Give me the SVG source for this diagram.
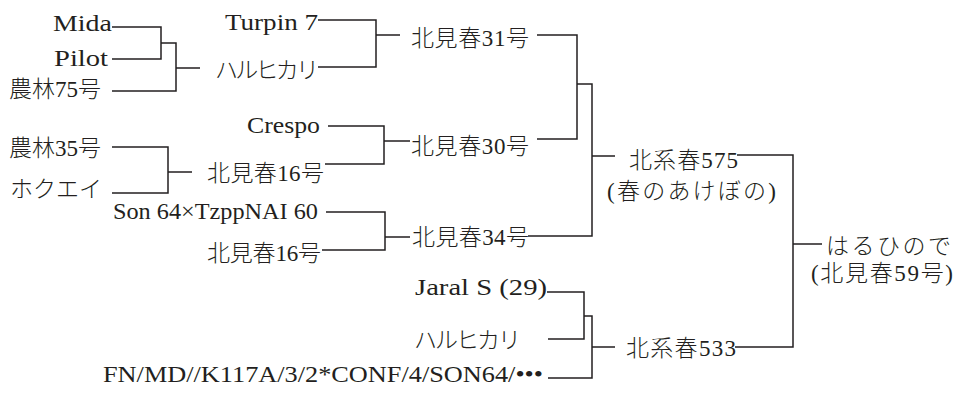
<svg xmlns="http://www.w3.org/2000/svg" width="954" height="394" viewBox="0 0 954 394">
<style>
text{font-family:"Liberation Serif","Noto Sans CJK JP",serif;font-size:23px;font-weight:300;fill:#231f20}
.l{font-size:24px}
.c path{fill:none;stroke:#231f20;stroke-width:1.5}
</style>
<rect width="954" height="394" fill="#fff"/>
<g class="c" id="connectors">
<path d="M112,27H161V59H112M161,43H176V91H112M176,68H200"/>
<path d="M318,20H376V67H318M376,35H400"/>
<path d="M112,147H168V193H112M168,172H192"/>
<path d="M328,126H384V164H325M384,141H410"/>
<path d="M326,212H385V250H322M385,237H410"/>
<path d="M537,35H577V139H537M577,84H592V236H528M592,156H615"/>
<path d="M547,292H584V339H548M584,316H592V378H548M592,347H615"/>
<path d="M737,155H793V347H735M793,244H822"/>
</g>
<g id="mida"><text class="l" x="53" y="31" textLength="59" lengthAdjust="spacingAndGlyphs">Mida</text></g>
<g id="pilot"><text class="l" x="54" y="66" textLength="54" lengthAdjust="spacingAndGlyphs">Pilot</text></g>
<g id="norin75"><text x="9" y="97" textLength="92" lengthAdjust="spacing">農林75号</text></g>
<g id="turpin7"><text class="l" x="225" y="30" textLength="93" lengthAdjust="spacingAndGlyphs">Turpin 7</text></g>
<g id="haruhikari1"><text x="215" y="78" textLength="104" lengthAdjust="spacing">ハルヒカリ</text></g>
<g id="kitamiharu31"><text x="411" y="46" textLength="118" lengthAdjust="spacing">北見春31号</text></g>
<g id="crespo"><text class="l" x="247" y="133" textLength="73" lengthAdjust="spacingAndGlyphs">Crespo</text></g>
<g id="norin35"><text x="9" y="156" textLength="92" lengthAdjust="spacing">農林35号</text></g>
<g id="hokuei"><text x="10" y="197" textLength="92" lengthAdjust="spacing">ホクエイ</text></g>
<g id="kitamiharu16a"><text x="207" y="181" textLength="117" lengthAdjust="spacing">北見春16号</text></g>
<g id="kitamiharu30"><text x="411" y="154" textLength="118" lengthAdjust="spacing">北見春30号</text></g>
<g id="son64"><text class="l" x="113" y="219" textLength="205" lengthAdjust="spacingAndGlyphs">Son 64×TzppNAI 60</text></g>
<g id="kitamiharu16b"><text x="207" y="261" textLength="114" lengthAdjust="spacing">北見春16号</text></g>
<g id="kitamiharu34"><text x="412" y="245" textLength="117" lengthAdjust="spacing">北見春34号</text></g>
<g id="hokkeiharu575"><text x="629" y="168" textLength="109" lengthAdjust="spacing">北系春575</text><text x="607" y="199" textLength="169" lengthAdjust="spacing">(春のあけぼの)</text></g>
<g id="hokkeiharu533"><text x="626" y="356" textLength="110" lengthAdjust="spacing">北系春533</text></g>
<g id="haruhinode"><text x="826" y="254" textLength="125" lengthAdjust="spacing">はるひので</text><text x="811" y="281" textLength="142" lengthAdjust="spacing">(北見春59号)</text></g>
<g id="jaral"><text class="l" x="415" y="295" textLength="132" lengthAdjust="spacingAndGlyphs">Jaral S (29)</text></g>
<g id="haruhikari2"><text x="414" y="348" textLength="107" lengthAdjust="spacing">ハルヒカリ</text></g>
<g id="fnmd"><text class="l" x="103" y="382" textLength="440" lengthAdjust="spacingAndGlyphs">FN/MD//K117A/3/2*CONF/4/SON64/•••</text></g>
</svg>
